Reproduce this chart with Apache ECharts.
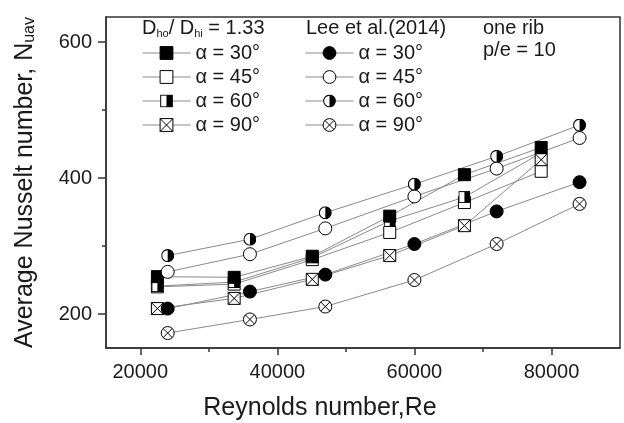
<!DOCTYPE html>
<html>
<head>
<meta charset="utf-8">
<script src="https://cdn.jsdelivr.net/npm/echarts@6/dist/echarts.min.js"></script>
<style>
  html, body { margin: 0; padding: 0; background: #fff; }
  #chart { width: 624px; height: 423px; }
</style>
</head>
<body>
<div id="chart"></div>
<script>
// Reynolds numbers of the present study (Dho/Dhi = 1.33) and of Lee et al.(2014)
var rePresent = [22500, 33700, 45100, 56400, 67300, 78500];
var reLee = [24000, 36000, 47000, 60000, 72000, 84100];

// average Nusselt number, present study
var nuSq30 = [255, 254, 285, 344, 405, 445];
var nuSq45 = [240, 244, 280, 320, 364, 410];
var nuSq60 = [241, 247, 283, 337, 372, 437];
var nuSq90 = [208, 223, 251, 286, 330, 427];

// average Nusselt number, Lee et al.(2014)
var nuLee30 = [208, 233, 258, 303, 351, 394];
var nuLee45 = [262, 288, 326, 373, 414, 459];
var nuLee60 = [286, 310, 349, 391, 432, 478];
var nuLee90 = [172, 192, 211, 250, 303, 362];

var angleLabels = ['α = 30°', 'α = 45°', 'α = 60°', 'α = 90°'];
var xMajor = [20000, 40000, 60000, 80000];
var xMinor = [30000, 50000, 70000];
var yMajor = [200, 400, 600];
var yMinor = [300, 500];

var FONT = '"Liberation Sans", Arial, sans-serif';
var TXT = '#1a1a1a';
var FRAME = '#333';

function svgImg(body) {
  var svg = '<svg xmlns="http://www.w3.org/2000/svg" width="24" height="24" viewBox="0 0 24 24">' + body + '</svg>';
  return 'image://data:image/svg+xml;charset=utf-8,' + encodeURIComponent(svg);
}
var halfSquare = svgImg('<rect x="1" y="1" width="22" height="22" fill="#fff" stroke="#000" stroke-width="2"/>' +
  '<rect x="12" y="1" width="11" height="22" fill="#000"/>');
var halfCircle = svgImg('<circle cx="12" cy="12" r="11" fill="#fff" stroke="#000" stroke-width="2"/>' +
  '<path d="M12,1 A11,11 0 0,1 12,23 Z" fill="#000"/>');
var crossSquare = 'path://M0,0 L10,0 L10,10 L0,10 Z M0,0 L10,10 M10,0 L0,10';
var crossCircle = 'path://M0,5 A5,5 0 1,1 10,5 A5,5 0 1,1 0,5 Z M1.46,1.46 L8.54,8.54 M8.54,1.46 L1.46,8.54';

function pairs(xs, ys) {
  return xs.map(function (x, i) { return [x, ys[i]]; });
}

function makeSeries(name, xs, ys, sym, size, fill) {
  return {
    name: name,
    type: 'line',
    data: pairs(xs, ys),
    symbol: sym,
    symbolSize: size,
    showAllSymbol: true,
    lineStyle: { color: '#8a8a8a', width: 1 },
    itemStyle: { color: fill, borderColor: '#000', borderWidth: 1 },
    emphasis: { disabled: true },
    animation: false
  };
}

var legendNames = {
  sq30: angleLabels[0], sq45: angleLabels[1], sq60: angleLabels[2], sq90: angleLabels[3],
  lee30: angleLabels[0], lee45: angleLabels[1], lee60: angleLabels[2], lee90: angleLabels[3]
};

function legendBox(left, names) {
  return {
    orient: 'vertical',
    left: left,
    top: 43,
    itemWidth: 48,
    itemHeight: 16,
    itemGap: 4,
    padding: 0,
    selectedMode: false,
    data: names,
    formatter: function (n) { return legendNames[n]; },
    textStyle: { fontFamily: FONT, fontSize: 20, color: TXT, lineHeight: 16 },
    lineStyle: { width: 1, color: '#8a8a8a' },
    itemStyle: { borderWidth: 1 }
  };
}

function plain(v) { return String(v); }

var chart = echarts.init(document.getElementById('chart'));

var option = {
  backgroundColor: '#fff',
  animation: false,
  title: [
    {
      text: 'D{s|ho}/ D{s|hi} = 1.33',
      left: 142, top: 17, padding: 0,
      textStyle: {
        fontFamily: FONT, fontSize: 20, fontWeight: 'normal', color: TXT, lineHeight: 22,
        rich: { s: { fontFamily: FONT, fontSize: 11, color: TXT, verticalAlign: 'bottom', lineHeight: 22 } }
      }
    },
    {
      text: 'Lee et al.(2014)',
      left: 306, top: 17, padding: 0,
      textStyle: { fontFamily: FONT, fontSize: 20, fontWeight: 'normal', color: TXT, lineHeight: 22 }
    },
    {
      text: 'one rib\np/e = 10',
      left: 483, top: 17, padding: 0,
      textStyle: { fontFamily: FONT, fontSize: 20, fontWeight: 'normal', color: TXT, lineHeight: 22 }
    }
  ],
  legend: [
    legendBox(142, ['sq30', 'sq45', 'sq60', 'sq90']),
    legendBox(305, ['lee30', 'lee45', 'lee60', 'lee90'])
  ],
  grid: {
    left: 106, right: 4, top: 17, bottom: 75,
    outerBoundsMode: 'none',
    show: true, borderColor: FRAME, borderWidth: 1.5, backgroundColor: 'transparent'
  },
  xAxis: [
    {
      type: 'value', min: 15000, max: 90000, position: 'bottom',
      name: 'Reynolds number,Re',
      nameLocation: 'middle', nameGap: 48,
      nameTextStyle: { fontFamily: FONT, fontSize: 25, color: TXT, padding: [0, 86, 0, 0] },
      axisLine: { lineStyle: { color: FRAME, width: 1.5 } },
      axisTick: { customValues: xMajor, length: 7, lineStyle: { color: FRAME, width: 1.5 } },
      axisLabel: { customValues: xMajor, formatter: plain, margin: 14, fontFamily: FONT, fontSize: 20, color: TXT },
      splitLine: { show: false }
    },
    {
      type: 'value', min: 15000, max: 90000, position: 'bottom',
      axisLine: { show: false },
      axisTick: { customValues: xMinor, length: 4, lineStyle: { color: FRAME, width: 1.5 } },
      axisLabel: { show: false },
      splitLine: { show: false }
    }
  ],
  yAxis: [
    {
      type: 'value', min: 150, max: 637, position: 'left',
      name: 'Average Nusselt number, N{s|uav}',
      nameLocation: 'middle', nameGap: 68,
      nameTextStyle: {
        fontFamily: FONT, fontSize: 25, color: TXT,
        rich: { s: { fontFamily: FONT, fontSize: 16, color: TXT, verticalAlign: 'bottom' } }
      },
      axisLine: { lineStyle: { color: FRAME, width: 1.5 } },
      axisTick: { customValues: yMajor, length: 8, lineStyle: { color: FRAME, width: 1.5 } },
      axisLabel: { customValues: yMajor, formatter: plain, margin: 14, fontFamily: FONT, fontSize: 20, color: TXT },
      splitLine: { show: false }
    },
    {
      type: 'value', min: 150, max: 637, position: 'left',
      axisLine: { show: false },
      axisTick: { customValues: yMinor, length: 4, lineStyle: { color: FRAME, width: 1.5 } },
      axisLabel: { show: false },
      splitLine: { show: false }
    }
  ],
  series: [
    makeSeries('sq45', rePresent, nuSq45, 'rect', 12, '#fff'),
    makeSeries('sq60', rePresent, nuSq60, halfSquare, 12, '#fff'),
    makeSeries('sq90', rePresent, nuSq90, crossSquare, 12, '#fff'),
    makeSeries('sq30', rePresent, nuSq30, 'rect', 12, '#000'),
    makeSeries('lee90', reLee, nuLee90, crossCircle, 13, '#fff'),
    makeSeries('lee45', reLee, nuLee45, 'circle', 13, '#fff'),
    makeSeries('lee60', reLee, nuLee60, halfCircle, 13, '#fff'),
    makeSeries('lee30', reLee, nuLee30, 'circle', 13, '#000')
  ]
};

chart.setOption(option);
</script>
</body>
</html>
